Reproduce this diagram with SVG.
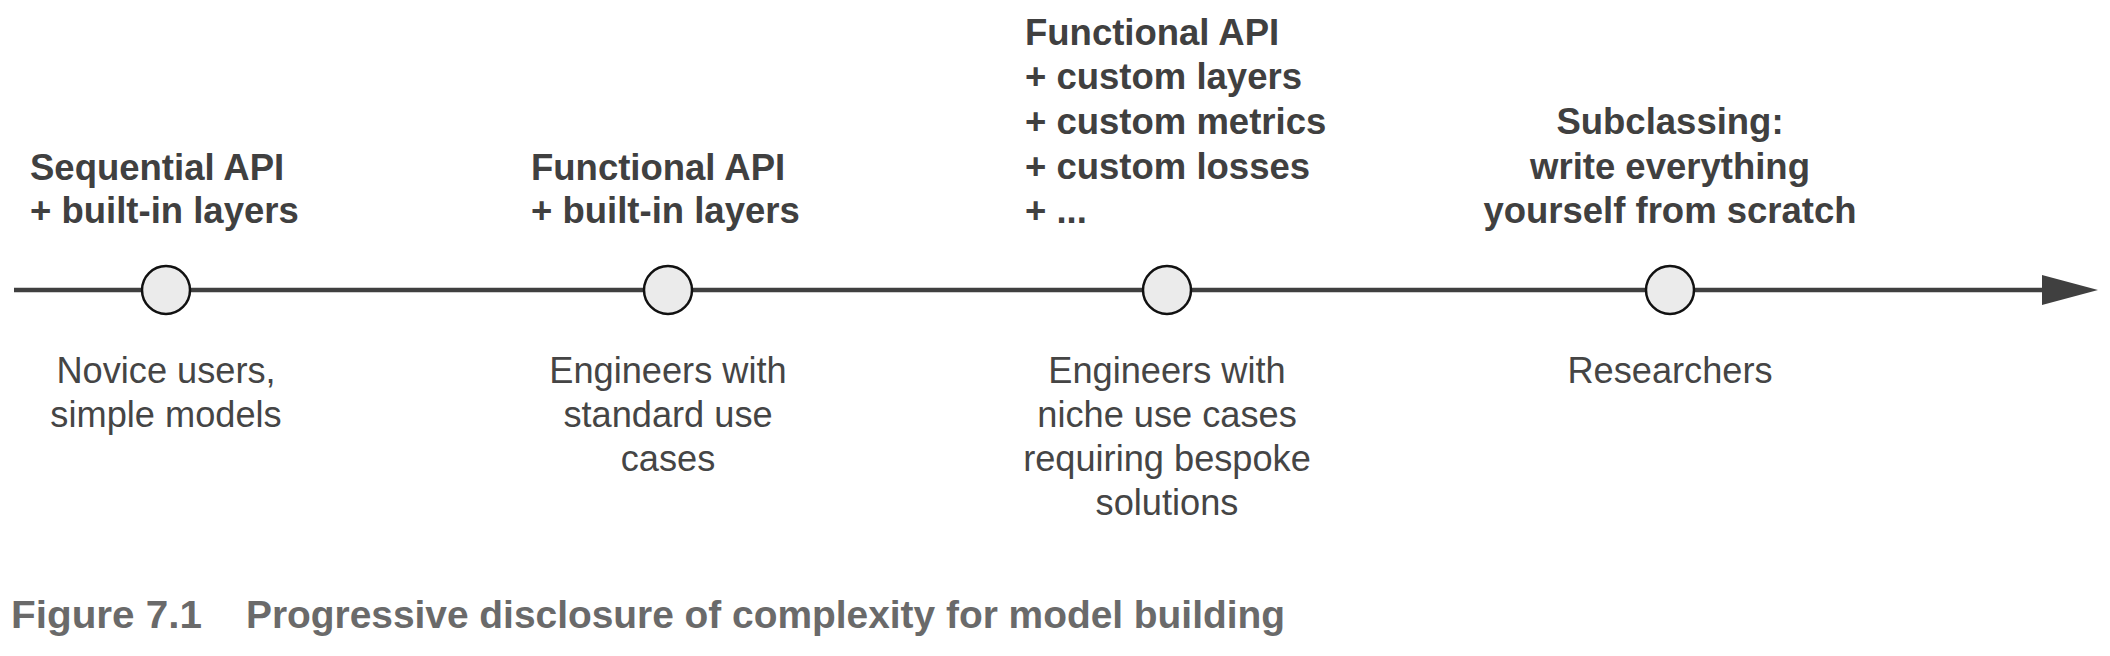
<svg xmlns="http://www.w3.org/2000/svg" width="2110" height="656" viewBox="0 0 2110 656">
<style>
.b{font-family:"Liberation Sans",Arial,sans-serif;font-weight:bold;font-size:36.5px;fill:#404040}
.r{font-family:"Liberation Sans",Arial,sans-serif;font-size:36.2px;fill:#454545;text-anchor:middle}
.c{font-family:"Liberation Sans Narrow","Liberation Sans",Arial,sans-serif;font-weight:bold;font-size:38px;fill:#6a6a6a}
.dot{fill:#ebebeb;stroke:#111;stroke-width:2.5}
</style>
<defs>
<marker id="ah" markerUnits="userSpaceOnUse" markerWidth="60" markerHeight="34" refX="2" refY="15" orient="auto">
<path d="M0,0 L56,15 L0,30 Z" fill="#404040"/>
</marker>
</defs>
<rect width="2110" height="656" fill="#fff"/>
<g id="connectors">
<line x1="14" y1="290" x2="2044" y2="290" stroke="#404040" stroke-width="4.5" marker-end="url(#ah)"/>
</g>
<g id="node1">
<circle class="dot" cx="166" cy="290" r="24"/>
<text class="b" x="30" y="180">Sequential API</text>
<text class="b" x="30" y="223">+ built-in layers</text>
<text class="r" x="166" y="383">Novice users,</text>
<text class="r" x="166" y="427">simple models</text>
</g>
<g id="node2">
<circle class="dot" cx="668" cy="290" r="24"/>
<text class="b" x="531" y="180">Functional API</text>
<text class="b" x="531" y="223">+ built-in layers</text>
<text class="r" x="668" y="383">Engineers with</text>
<text class="r" x="668" y="427">standard use</text>
<text class="r" x="668" y="471">cases</text>
</g>
<g id="node3">
<circle class="dot" cx="1167" cy="290" r="24"/>
<text class="b" x="1025" y="45">Functional API</text>
<text class="b" x="1025" y="89">+ custom layers</text>
<text class="b" x="1025" y="134">+ custom metrics</text>
<text class="b" x="1025" y="179">+ custom losses</text>
<text class="b" x="1025" y="223">+ ...</text>
<text class="r" x="1167" y="383">Engineers with</text>
<text class="r" x="1167" y="427">niche use cases</text>
<text class="r" x="1167" y="471">requiring bespoke</text>
<text class="r" x="1167" y="515">solutions</text>
</g>
<g id="node4">
<circle class="dot" cx="1670" cy="290" r="24"/>
<text class="b" x="1670" y="134" text-anchor="middle">Subclassing:</text>
<text class="b" x="1670" y="179" text-anchor="middle">write everything</text>
<text class="b" x="1670" y="223" text-anchor="middle">yourself from scratch</text>
<text class="r" x="1670" y="383">Researchers</text>
</g>
<g id="caption">
<text class="c" x="11" y="628" textLength="191" lengthAdjust="spacingAndGlyphs">Figure 7.1</text>
<text class="c" x="246" y="628" textLength="1039" lengthAdjust="spacingAndGlyphs">Progressive disclosure of complexity for model building</text>
</g>
</svg>
